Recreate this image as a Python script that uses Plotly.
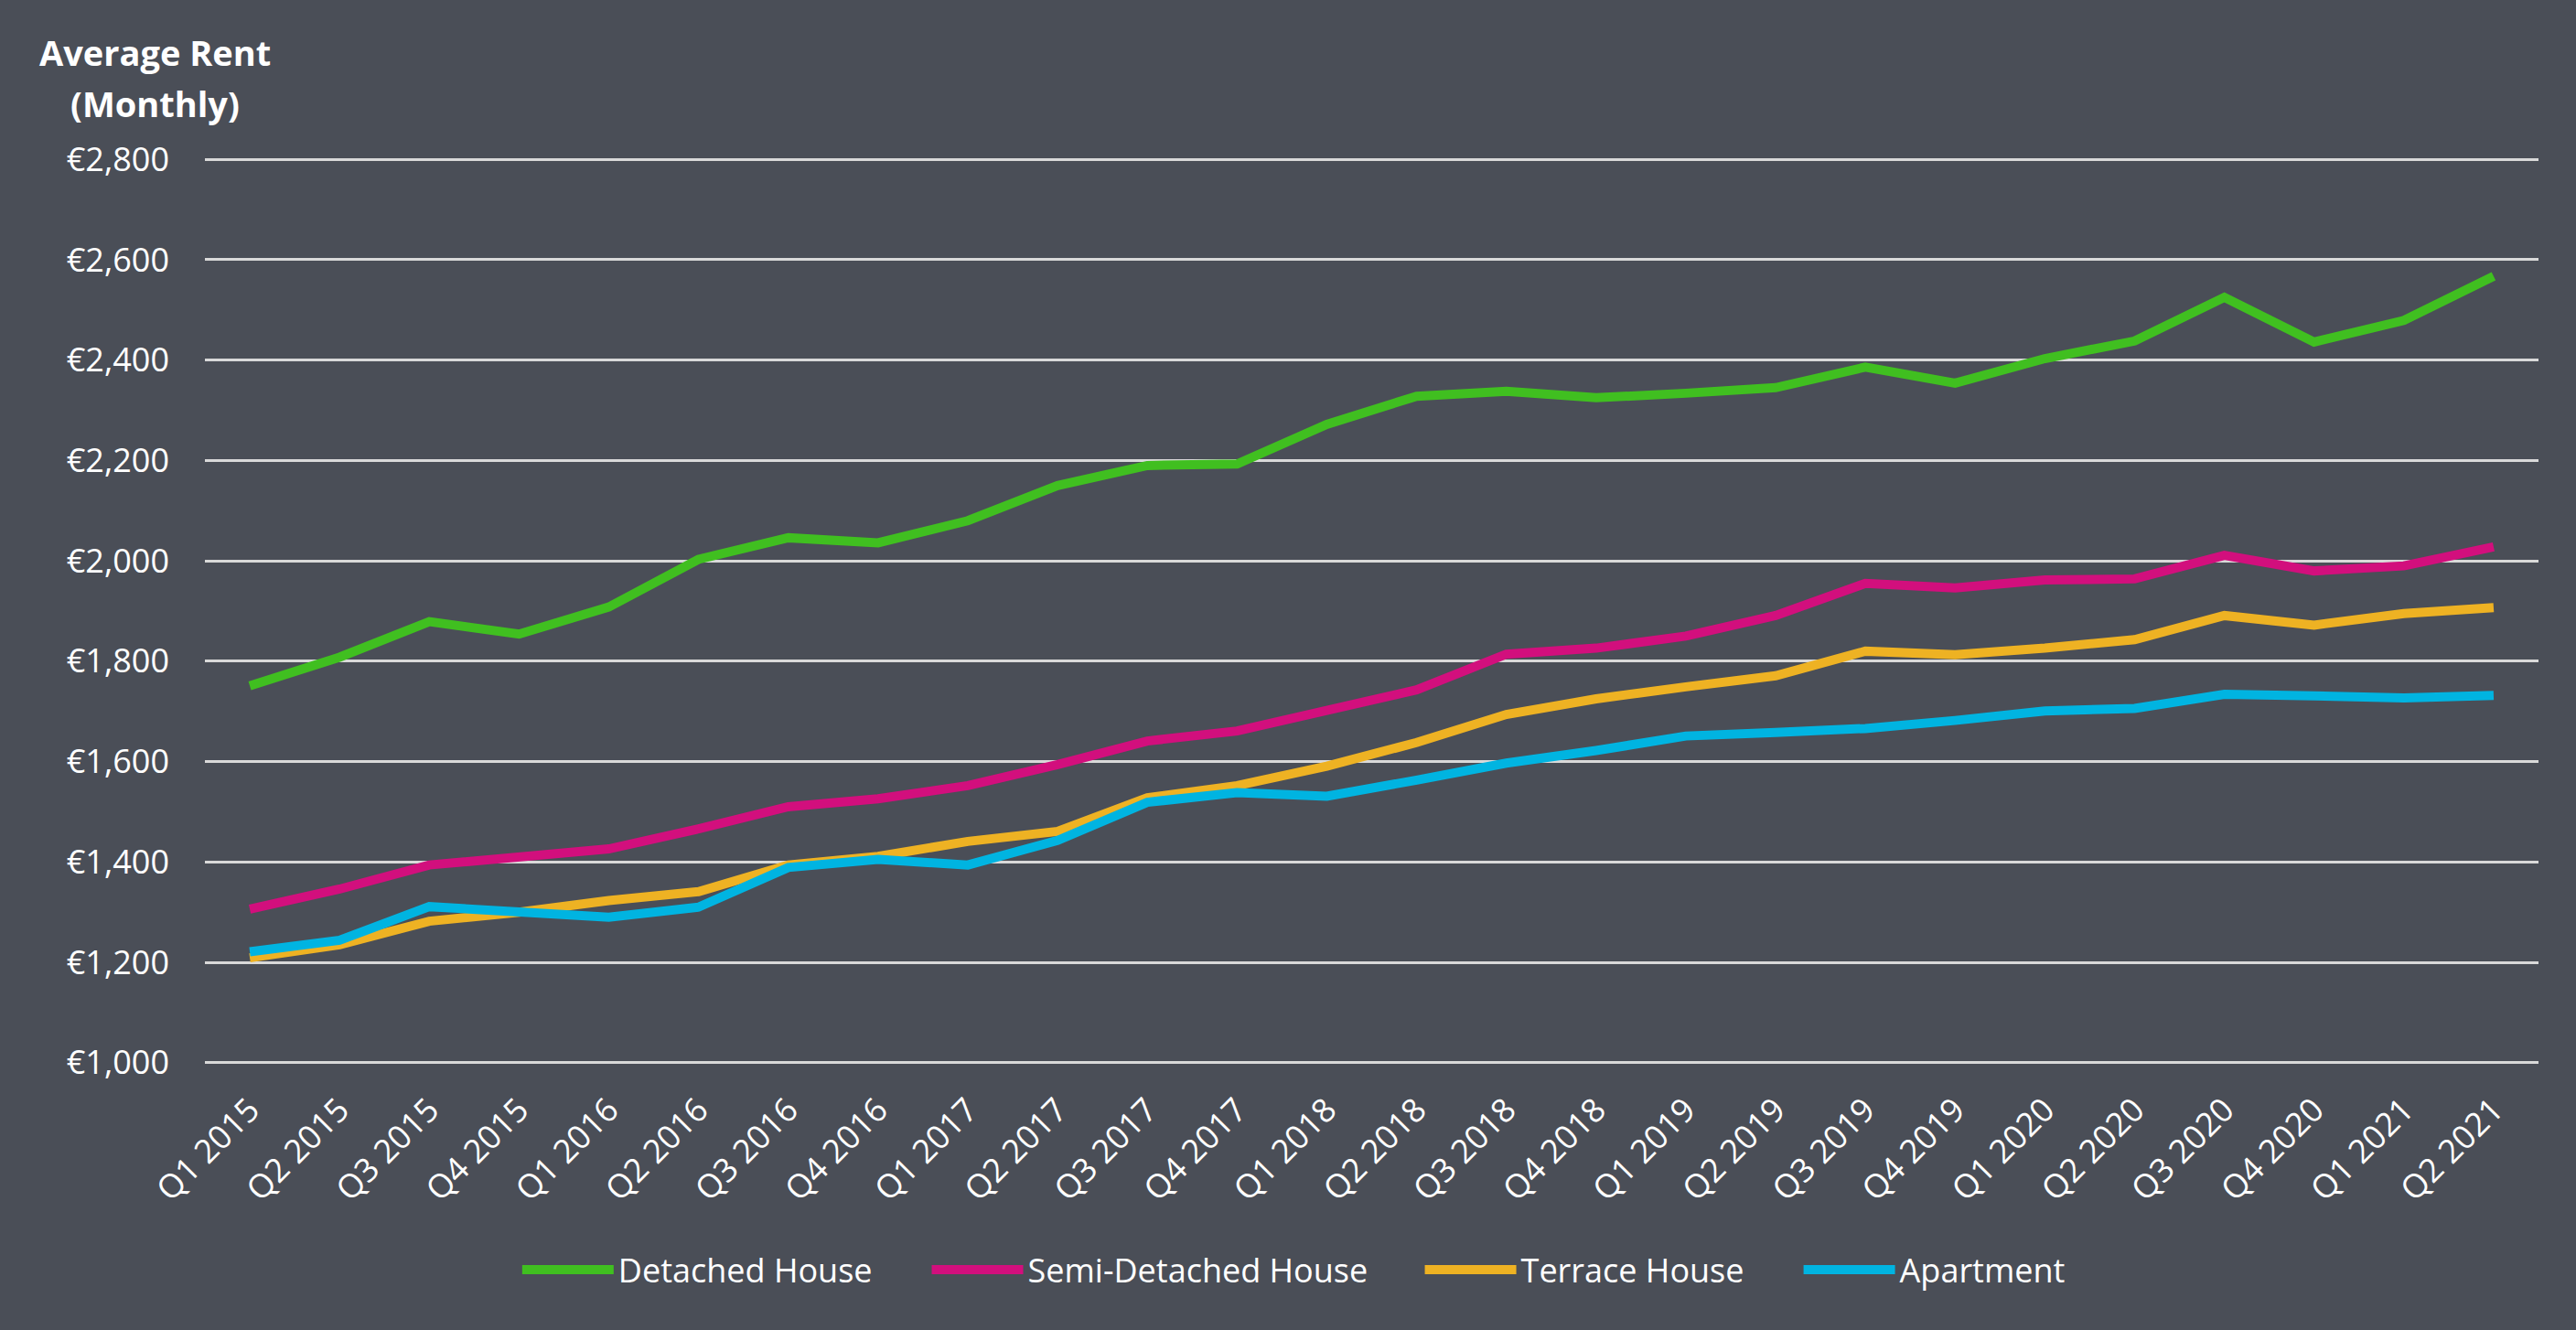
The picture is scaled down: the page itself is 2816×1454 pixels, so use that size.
import plotly.graph_objects as go

quarters = ["Q1 2015", "Q2 2015", "Q3 2015", "Q4 2015", "Q1 2016", "Q2 2016", "Q3 2016", "Q4 2016",
            "Q1 2017", "Q2 2017", "Q3 2017", "Q4 2017", "Q1 2018", "Q2 2018", "Q3 2018", "Q4 2018",
            "Q1 2019", "Q2 2019", "Q3 2019", "Q4 2019", "Q1 2020", "Q2 2020", "Q3 2020", "Q4 2020",
            "Q1 2021", "Q2 2021"]

detached = [1751, 1808, 1879, 1854, 1908, 2003, 2046, 2036, 2080, 2150, 2190, 2193, 2272, 2328,
            2338, 2325, 2334, 2345, 2386, 2354, 2403, 2438, 2525, 2436, 2479, 2567]
semi_detached = [1306, 1346, 1394, 1408, 1426, 1466, 1510, 1526, 1552, 1594, 1641, 1661, 1702, 1743,
                 1814, 1826, 1850, 1891, 1955, 1946, 1962, 1964, 2011, 1980, 1990, 2028]
terrace = [1209, 1235, 1282, 1300, 1323, 1341, 1394, 1411, 1441, 1461, 1528, 1552, 1591, 1638,
           1694, 1725, 1749, 1771, 1820, 1813, 1826, 1843, 1891, 1872, 1895, 1907]
apartment = [1221, 1244, 1311, 1301, 1290, 1310, 1389, 1405, 1394, 1443, 1519, 1538, 1531, 1563,
             1597, 1622, 1651, 1658, 1666, 1682, 1701, 1706, 1734, 1731, 1727, 1732]

series_names = ["Detached House", "Semi-Detached House", "Terrace House", "Apartment"]
series_values = [detached, semi_detached, terrace, apartment]
series_colors = ["#40BF20", "#D20F7D", "#EEB223", "#00B4E1"]

y_ticks = [1000, 1200, 1400, 1600, 1800, 2000, 2200, 2400, 2600, 2800]
y_tick_labels = ["€1,000", "€1,200", "€1,400", "€1,600", "€1,800", "€2,000", "€2,200",
                 "€2,400", "€2,600", "€2,800"]

FONT = "Open Sans"
BG = "#4A4E57"

legend_ids = ["legend", "legend2", "legend3", "legend4"]
legend_x = [0.134, 0.3095, 0.5208, 0.6831]

fig = go.Figure()
for name, vals, col, lid in zip(series_names, series_values, series_colors, legend_ids):
    fig.add_trace(go.Scatter(x=quarters, y=vals, name=name, mode="lines",
                             line=dict(color=col, width=10), legend=lid))

legend_common = dict(orientation="h", xanchor="left", y=-0.226, yanchor="middle",
                     font=dict(family=FONT, size=36, color="#FFFFFF"),
                     bgcolor="rgba(0,0,0,0)", itemwidth=100)

fig.update_layout(
    width=2816, height=1454,
    paper_bgcolor=BG, plot_bgcolor=BG,
    margin=dict(l=224, r=41, t=172, b=290),
    font=dict(family=FONT, size=36, color="#FFFFFF"),
    showlegend=True,
    legend=dict(x=legend_x[0], **legend_common),
    legend2=dict(x=legend_x[1], **legend_common),
    legend3=dict(x=legend_x[2], **legend_common),
    legend4=dict(x=legend_x[3], **legend_common),
    xaxis=dict(type="category", range=[-0.5, len(quarters) - 0.5], showgrid=False,
               showline=False, zeroline=False, tickangle=-45, ticks="",
               ticklabelstandoff=20,
               tickfont=dict(family=FONT, size=36, color="#FFFFFF")),
    yaxis=dict(range=[996, 2804], tickvals=y_ticks, ticktext=y_tick_labels,
               showgrid=True, gridcolor="#D9D9D9", gridwidth=3, zeroline=False,
               showline=False, ticks="", ticklabelstandoff=38,
               tickfont=dict(family=FONT, size=36, color="#FFFFFF")),
)

fig.add_annotation(text="<b>Average Rent</b>", xref="paper", yref="paper",
                   x=-0.0212, y=1.116, xanchor="center", yanchor="middle", showarrow=False,
                   font=dict(family=FONT, size=38, color="#FFFFFF"))
fig.add_annotation(text="<b>(Monthly)</b>", xref="paper", yref="paper",
                   x=-0.0212, y=1.0595, xanchor="center", yanchor="middle", showarrow=False,
                   font=dict(family=FONT, size=38, color="#FFFFFF"))

fig.write_html("out.html", config={"displayModeBar": False},
               post_script="document.body.style.margin='0';document.body.style.overflow='hidden';"
                           "document.body.style.background='" + BG + "';")
